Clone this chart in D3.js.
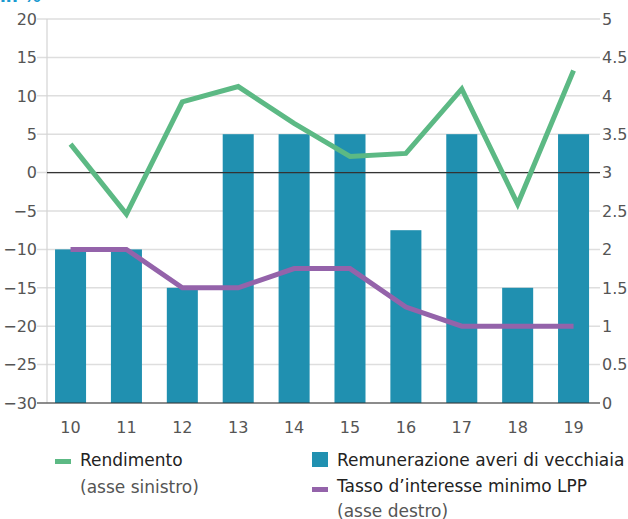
<!DOCTYPE html>
<html>
<head>
<meta charset="utf-8">
<script src="https://cdn.jsdelivr.net/npm/d3@7"></script>
<style>
  body { margin: 0; background: #fff; }
  svg { display: block; font-family: "DejaVu Sans", sans-serif; }
</style>
</head>
<body>
<div id="chart"></div>
<script>
// data
var years = ["10", "11", "12", "13", "14", "15", "16", "17", "18", "19"];
var rendimento = [3.7, -5.4, 9.2, 11.2, 6.4, 2.1, 2.5, 10.9, -4.1, 13.3];       // asse sinistro
var remunerazione = [2, 2, 1.5, 3.5, 3.5, 3.5, 2.25, 3.5, 1.5, 3.5];           // asse destro
var tassoMinimo = [2, 2, 1.5, 1.5, 1.75, 1.75, 1.25, 1, 1, 1];                 // asse destro
var leftTicks = [20, 15, 10, 5, 0, -5, -10, -15, -20, -25, -30];
var rightTicks = [5, 4.5, 4, 3.5, 3, 2.5, 2, 1.5, 1, 0.5, 0];

var width = 628, height = 519;
var plotLeft = 47, plotTop = 19, plotBottom = 403;

var svg = d3.select("#chart").append("svg")
    .attr("width", width)
    .attr("height", height);

var x = d3.scaleBand()
    .domain(years)
    .range([42.6, 601.5])
    .paddingInner(0.445)
    .paddingOuter(0.2225);

var yL = d3.scaleLinear().domain([-30, 20]).range([plotBottom, plotTop]);
var yR = d3.scaleLinear().domain([0, 5]).range([plotBottom, plotTop]);

var fmt = function(d){ return String(d).replace("-", "\u2212"); };

// title (cut off at top)
svg.append("text")
    .attr("x", 0)
    .attr("y", 1.5)
    .attr("fill", "#1a9ad0")
    .attr("font-size", 17)
    .attr("font-weight", 700)
    .text("in %");

// gridlines
svg.append("g")
    .selectAll("line")
    .data(leftTicks)
    .join("line")
    .attr("x1", 37)
    .attr("x2", 600)
    .attr("y1", function(d){ return yL(d); })
    .attr("y2", function(d){ return yL(d); })
    .attr("stroke", "#dedede")
    .attr("stroke-width", 1.5);

// left vertical axis line
svg.append("line")
    .attr("x1", plotLeft).attr("x2", plotLeft)
    .attr("y1", plotTop).attr("y2", plotBottom)
    .attr("stroke", "#d4d4d4")
    .attr("stroke-width", 1.2);

// left axis labels
svg.append("g")
    .selectAll("text")
    .data(leftTicks)
    .join("text")
    .attr("x", 37)
    .attr("y", function(d){ return yL(d); })
    .attr("dy", "0.36em")
    .attr("text-anchor", "end")
    .attr("font-size", 16)
    .attr("fill", "#555")
    .text(function(d){ return fmt(d); });

// right axis labels
svg.append("g")
    .selectAll("text")
    .data(rightTicks)
    .join("text")
    .attr("x", 602)
    .attr("y", function(d){ return yR(d); })
    .attr("dy", "0.36em")
    .attr("font-size", 16)
    .attr("fill", "#555")
    .text(function(d){ return d; });

// bars
svg.append("g")
    .selectAll("rect")
    .data(remunerazione)
    .join("rect")
    .attr("x", function(d, i){ return x(years[i]); })
    .attr("width", x.bandwidth())
    .attr("y", function(d){ return yR(d); })
    .attr("height", function(d){ return yR(0) - yR(d); })
    .attr("fill", "#2090b0");

// zero & base lines on top of bars
svg.append("g")
    .selectAll("line")
    .data([0, -30])
    .join("line")
    .attr("x1", function(d){ return d === 0 ? plotLeft : 37; })
    .attr("x2", 600)
    .attr("y1", function(d){ return yL(d); })
    .attr("y2", function(d){ return yL(d); })
    .attr("stroke", "#333")
    .attr("stroke-width", 1.2);

var cx = function(i){ return x(years[i]) + x.bandwidth() / 2; };

// purple line
svg.append("path")
    .datum(tassoMinimo)
    .attr("fill", "none")
    .attr("stroke", "#9463aa")
    .attr("stroke-width", 5)
    .attr("d", d3.line()
        .x(function(d, i){ return cx(i); })
        .y(function(d){ return yR(d); }));

// green line
svg.append("path")
    .datum(rendimento)
    .attr("fill", "none")
    .attr("stroke", "#5cb984")
    .attr("stroke-width", 5)
    .attr("d", d3.line()
        .x(function(d, i){ return cx(i); })
        .y(function(d){ return yL(d); }));

// x axis labels
svg.append("g")
    .selectAll("text")
    .data(years)
    .join("text")
    .attr("x", function(d){ return x(d) + x.bandwidth() / 2; })
    .attr("y", 433)
    .attr("text-anchor", "middle")
    .attr("font-size", 16)
    .attr("fill", "#555")
    .text(function(d){ return d; });

// legend
var lg = svg.append("g").attr("font-size", 17).attr("fill", "#222");

lg.append("rect").attr("x", 55).attr("y", 459).attr("width", 16).attr("height", 5).attr("fill", "#5cb984");
lg.append("text").attr("x", 80).attr("y", 466).text("Rendimento");
lg.append("text").attr("x", 80).attr("y", 493).attr("fill", "#555").text("(asse sinistro)");

lg.append("rect").attr("x", 312).attr("y", 452).attr("width", 16).attr("height", 15).attr("fill", "#2090b0");
lg.append("text").attr("x", 337).attr("y", 466).text("Remunerazione averi di vecchiaia");

lg.append("rect").attr("x", 312).attr("y", 487).attr("width", 16).attr("height", 5).attr("fill", "#9463aa");
lg.append("text").attr("x", 337).attr("y", 492).text("Tasso d\u2019interesse minimo LPP");
lg.append("text").attr("x", 337).attr("y", 517).attr("fill", "#555").text("(asse destro)");
</script>
</body>
</html>
